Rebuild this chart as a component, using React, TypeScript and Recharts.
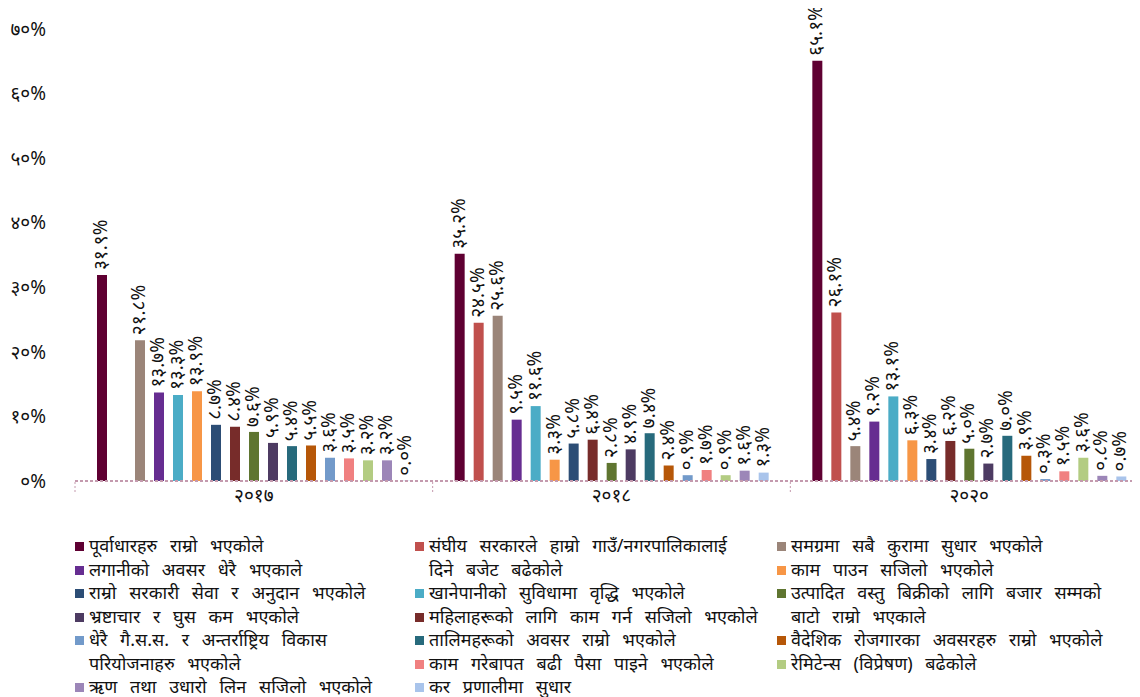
import { BarChart, Bar, XAxis, YAxis, LabelList } from "recharts";

const years = ["२०१७", "२०१८", "२०२०"];

// reasons in the order the bars are drawn inside each year
const reasons = [
  "पूर्वाधारहरु राम्रो भएकोले",
  "संघीय सरकारले हाम्रो गाउँ/नगरपालिकालाई\nदिने बजेट बढेकोले",
  "समग्रमा सबै कुरामा सुधार भएकोले",
  "लगानीको अवसर धेरै भएकाले",
  "खानेपानीको सुविधामा वृद्धि भएकोले",
  "काम पाउन सजिलो भएकोले",
  "राम्रो सरकारी सेवा र अनुदान भएकोले",
  "महिलाहरूको लागि काम गर्न सजिलो भएकोले",
  "उत्पादित वस्तु बिक्रीको लागि बजार सम्मको\nबाटो राम्रो भएकाले",
  "भ्रष्टाचार र घुस कम भएकोले",
  "तालिमहरूको अवसर राम्रो भएकोले",
  "वैदेशिक रोजगारका अवसरहरु राम्रो भएकोले",
  "धेरै गै.स.स. र अन्तर्राष्ट्रिय विकास\nपरियोजनाहरु भएकोले",
  "काम गरेबापत बढी पैसा पाइने भएकोले",
  "रेमिटेन्स (विप्रेषण) बढेकोले",
  "ऋण तथा उधारो लिन सजिलो भएकोले",
  "कर प्रणालीमा सुधार",
];

const colors = [
  "#5F0032", "#C0504D", "#9B8579", "#662D91", "#4BACC6", "#F79646",
  "#2C4D75", "#772C2A", "#5F7530", "#4D3B62", "#276A7C", "#B65708",
  "#729ACA", "#F08080", "#B3CC82", "#9C86B8", "#A9C4EB",
];

const v2017 = [31.9, null, 21.8, 13.7, 13.3, 13.9, 8.7, 8.4, 7.6, 5.9, 5.4, 5.5, 3.6, 3.5, 3.2, 3.2, 0.0];
const v2018 = [35.2, 24.5, 25.6, 9.5, 11.6, 3.3, 5.8, 6.4, 2.8, 4.9, 7.4, 2.4, 0.9, 1.7, 0.9, 1.6, 1.3];
const v2020 = [65.1, 26.1, 5.4, 9.2, 13.1, 6.3, 3.4, 6.2, 5.0, 2.7, 7.0, 3.9, 0.3, 1.5, 3.6, 0.8, 0.7];

const yTicks = [0, 10, 20, 30, 40, 50, 60, 70];

// legend columns, as indexes into reasons
const legendColumns = [
  [0, 3, 6, 9, 12, 15],
  [1, 4, 7, 10, 13, 16],
  [2, 5, 8, 11, 14],
];

const yearValues = [v2017, v2018, v2020];
const data = years.map((year, i) => {
  const row: Record<string, any> = { year };
  reasons.forEach((_, j) => {
    row["s" + j] = yearValues[i][j];
  });
  return row;
});

const FONT = "'Noto Sans', 'DejaVu Sans', sans-serif";
const devDigits = "०१२३४५६७८९";
const toDev = (s: string) => s.replace(/[0-9]/g, (d) => devDigits[Number(d)]);

const CHART_W = 1160;
const PLOT_LEFT = 75;
const PLOT_RIGHT = 1148;
const BAND = (PLOT_RIGHT - PLOT_LEFT) / years.length;

function ValueLabel(props: any) {
  const { x, y, width, value } = props;
  if (value === null || value === undefined) return null;
  const cx = x + width / 2 - 2;
  const cy = y - 5;
  return (
    <text
      x={cx}
      y={cy}
      transform={`rotate(-90, ${cx}, ${cy})`}
      textAnchor="start"
      dominantBaseline="central"
      fontSize={19}
      fontFamily={FONT}
      fill="#111"
    >
      {toDev(Number(value).toFixed(1)) + "%"}
    </text>
  );
}

function YearTick(props: any) {
  const { x, y, payload, index } = props;
  const left = x - BAND / 2;
  return (
    <g>
      <line x1={left} y1={y - 7} x2={left} y2={y + 3} stroke="#C49AAE" strokeDasharray="2 2" />
      {index === years.length - 1 && (
        <line x1={x + BAND / 2} y1={y - 7} x2={x + BAND / 2} y2={y + 3} stroke="#C49AAE" strokeDasharray="2 2" />
      )}
      <text x={x} y={y} dy="0.7em" textAnchor="middle" fontSize={19} fontFamily={FONT} fill="#111">
        {payload.value}
      </text>
    </g>
  );
}

// zero values still get a hairline so their label is drawn
const zeroSize = (value: any) => (value === 0 ? 0.3 : 0);

const legendColX = [75, 415, 777];

export default function App() {
  return (
    <div style={{ margin: "-8px 0 0 -8px", width: 1140, height: 697, overflow: "hidden", position: "relative", background: "#fff" }}>
      <BarChart
        width={CHART_W}
        height={520}
        data={data}
        margin={{ top: 29, right: CHART_W - PLOT_RIGHT, left: 0, bottom: 9 }}
        barSize={10}
        barGap={9}
      >
        <XAxis
          dataKey="year"
          height={30}
          axisLine={{ stroke: "#C49AAE", strokeWidth: 2, strokeDasharray: "3 2" }}
          tickLine={false}
          tick={<YearTick />}
          interval={0}
        />
        <YAxis
          width={PLOT_LEFT}
          domain={[0, 70]}
          ticks={yTicks}
          axisLine={false}
          tickLine={false}
          tickMargin={23}
          tickFormatter={(v: number) => toDev(String(v)) + "%"}
          tick={{ fontSize: 19, fontFamily: FONT, fill: "#111" }}
        />
        {reasons.map((name, j) => (
          <Bar
            key={j}
            dataKey={"s" + j}
            name={name}
            fill={colors[j]}
            minPointSize={zeroSize}
            isAnimationActive={false}
          >
            <LabelList dataKey={"s" + j} content={<ValueLabel />} />
          </Bar>
        ))}
      </BarChart>
      {legendColumns.map((col, ci) => (
        <div
          key={ci}
          style={{
            position: "absolute",
            left: legendColX[ci],
            top: 534,
            fontFamily: FONT,
            fontSize: 18,
            wordSpacing: 8,
            color: "#111",
          }}
        >
          {col.map((j) => (
            <div key={j} style={{ display: "flex", alignItems: "flex-start", lineHeight: "23.5px" }}>
              <span style={{ width: 9, height: 9, background: colors[j], marginTop: 8, marginRight: 5, flex: "none" }} />
              <span style={{ whiteSpace: "pre" }}>{reasons[j]}</span>
            </div>
          ))}
        </div>
      ))}
    </div>
  );
}
